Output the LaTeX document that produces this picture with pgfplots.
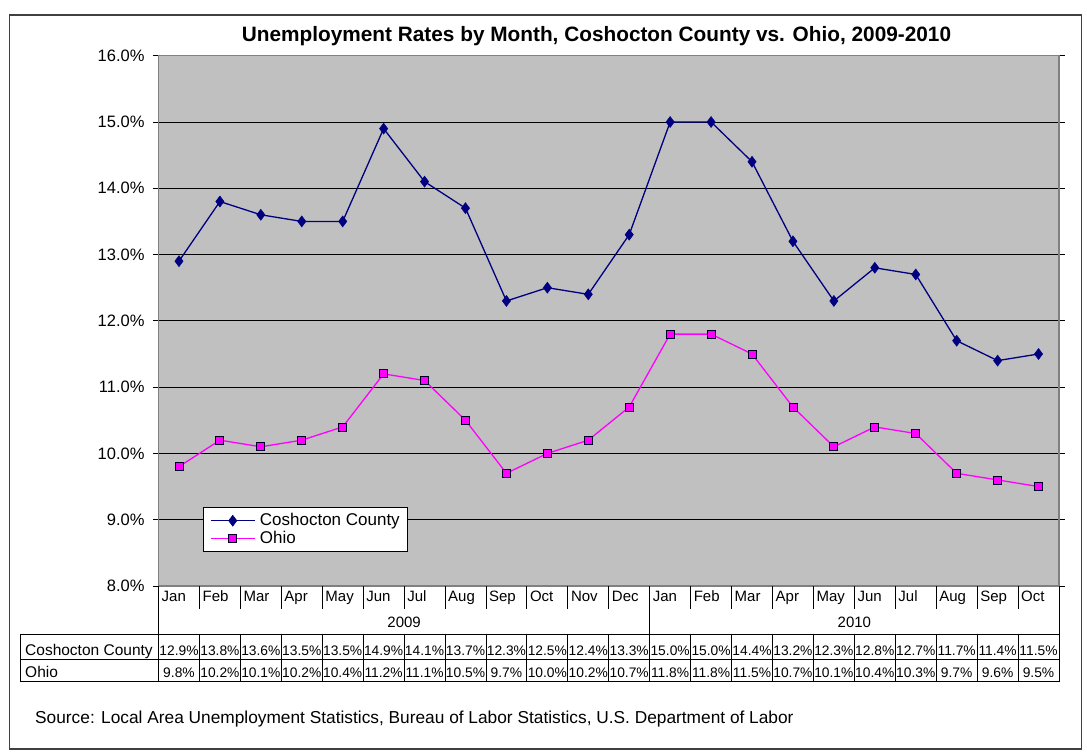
\documentclass[border=0pt]{standalone}
\usepackage{pgfplots}
\pgfplotsset{compat=1.18}
\usepackage{pgfplotstable}
\usepackage{fontspec}
\setmainfont{Liberation Sans}

\definecolor{plotgray}{RGB}{192,192,192}
\definecolor{framegray}{RGB}{128,128,128}
\definecolor{cosnavy}{RGB}{0,0,128}
\definecolor{ohiomag}{RGB}{255,0,255}

% monthly unemployment rate, %
\pgfplotstableread{
idx mon cos ohio
0  Jan 12.9 9.8
1  Feb 13.8 10.2
2  Mar 13.6 10.1
3  Apr 13.5 10.2
4  May 13.5 10.4
5  Jun 14.9 11.2
6  Jul 14.1 11.1
7  Aug 13.7 10.5
8  Sep 12.3 9.7
9  Oct 12.5 10.0
10 Nov 12.4 10.2
11 Dec 13.3 10.7
12 Jan 15.0 11.8
13 Feb 15.0 11.8
14 Mar 14.4 11.5
15 Apr 13.2 10.7
16 May 12.3 10.1
17 Jun 12.8 10.4
18 Jul 12.7 10.3
19 Aug 11.7 9.7
20 Sep 11.4 9.6
21 Oct 11.5 9.5
}\rates

\newcommand{\fs}[1]{\fontsize{#1}{#1}\selectfont}

\begin{document}
\begin{tikzpicture}
\begin{axis}[
  at={(158.5pt,167pt)}, anchor=south west,
  scale only axis, width=900.5pt, height=530.3pt,
  xmin=-0.5, xmax=21.5, ymin=8, ymax=16,
  xtick=\empty, ytick={8,...,16},
  ymajorgrids, grid style={black, line width=0.9pt},
  axis background/.style={fill=plotgray},
  axis line style={draw=framegray, line width=1.6pt},
  tick align=outside, major tick length=5.5pt,
  tick style={black, line width=0.9pt},
  /pgf/number format/assume math mode=true,
  yticklabel={\pgfmathprintnumber[fixed,fixed zerofill,precision=1]{\tick}\%},
  yticklabel style={font=\fs{16.5}, xshift=-5pt},
  legend style={at={(0.0491,0.1484)}, anchor=north west, draw=black,
    line width=0.8pt, fill=white, font=\fs{17}, inner xsep=7pt, inner ysep=4.5pt,
    row sep=1pt, nodes={inner sep=0.5pt, text height=12.5pt, text depth=3.5pt},
    /tikz/every odd column/.append style={column sep=4pt}},
  legend cell align=left,
  legend image code/.code={\draw[mark repeat=2,mark phase=2,#1]
    plot coordinates {(0pt,0pt) (22pt,0pt) (44pt,0pt)};},
]
\addplot[cosnavy, line width=1.3pt, mark=diamond*, mark size=5.5pt,
  mark options={fill=cosnavy, draw=cosnavy, line width=0.5pt}]
  table[x=idx, y=cos] {\rates};
\addlegendentry{Coshocton County}
\addplot[ohiomag, line width=1.3pt, mark=square*, mark size=4pt,
  mark options={fill=ohiomag, draw=black!85!blue, line width=0.8pt}]
  table[x=idx, y=ohio] {\rates};
\addlegendentry{Ohio}
\end{axis}

\begin{scope}[x=1pt, y=1pt]
\useasboundingbox (0,0) rectangle (1087,753);
% outer frame
\draw[line width=1.6pt, black!75] (9.5,738) rectangle (1081.5,4);
% title
\node[font=\bfseries\fs{20.8}, anchor=base] at (596.5,711.5)
  {Unemployment Rates by Month, Coshocton County vs. Ohio, 2009-2010};

% data table grid
\begin{scope}[line width=0.8pt, black]
  \draw (158.5,167) -- (158.5,71.3);
  \draw (1059,167) -- (1059,71.3);
  \draw (649.7,167) -- (649.7,118.7);
  \foreach \i in {1,...,11,13,14,...,21}
    \draw (158.5+\i*40.93,167) -- (158.5+\i*40.93,144);
  \foreach \i in {1,...,21}
    \draw (158.5+\i*40.93,118.7) -- (158.5+\i*40.93,71.3);
  \draw (20.7,118.7) -- (1059,118.7);
  \draw (20.7,94) -- (1059,94);
  \draw (20.7,71.3) -- (1059,71.3);
  \draw (20.7,118.7) -- (20.7,71.3);
\end{scope}

% months, years, values from the table
\foreach \i in {0,...,21}{
  \pgfplotstablegetelem{\i}{mon}\of\rates
  \node[font=\fs{15}, anchor=base west, inner sep=0pt]
    at (161.5+\i*40.93,152) {\pgfplotsretval};
  \pgfplotstablegetelem{\i}{cos}\of\rates
  \node[font=\fs{13.8}, anchor=base, inner sep=0pt]
    at (158.5+\i*40.93+20.47,98) {\pgfplotsretval\%};
  \pgfplotstablegetelem{\i}{ohio}\of\rates
  \node[font=\fs{13.8}, anchor=base, inner sep=0pt]
    at (158.5+\i*40.93+20.47,76) {\pgfplotsretval\%};
}
\node[font=\fs{15}, anchor=base, inner sep=0pt] at (404.1,126) {2009};
\node[font=\fs{15}, anchor=base, inner sep=0pt] at (854.4,126) {2010};
\node[font=\fs{15.5}, anchor=base west, inner sep=0pt] at (25,98) {Coshocton County};
\node[font=\fs{15.5}, anchor=base west, inner sep=0pt] at (25,76) {Ohio};

% source line
\node[font=\fs{17.3}, anchor=base west, inner sep=0pt] at (35,30)
  {Source: Local Area Unemployment Statistics, Bureau of Labor Statistics, U.S. Department of Labor};
\end{scope}
\end{tikzpicture}
\end{document}
